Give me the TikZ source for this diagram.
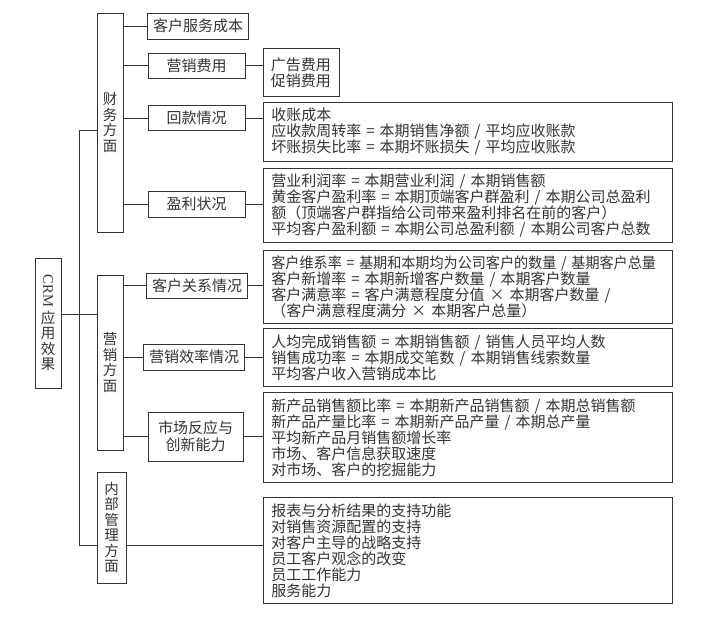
\documentclass[tikz,border=0pt]{standalone}
\usepackage{fontspec}
\setmainfont{Noto Sans CJK SC}
\newfontfamily\latinrm{Liberation Serif}
\usepackage{graphicx}

\begin{document}
\begin{tikzpicture}[x=1pt, y=1pt,
    color=black!80, line width=0.7pt,
    every node/.style = {draw, inner sep=0pt},
    vtext/.style = {minimum width=26pt, align=center, font=\fontsize{14.5}{15.5}\selectfont},
    item/.style = {minimum width=97pt, minimum height=25pt, inner xsep=5.5pt, align=center, font=\fontsize{15}{17}\selectfont},
    detail/.style = {anchor=north west, text width=393pt, inner xsep=8pt, align=left, font=\fontsize{15}{16}\selectfont}
    ]
    \useasboundingbox (0,0) rectangle (702,-624);

    \node[vtext, minimum height=130pt] (crm) at (48,-323) {\rotatebox{-90}{\latinrm CRM}\\[3pt]应\\用\\效\\果};
    \node[vtext, minimum height=219pt] (fin) at (110,-122.5) {财\\务\\方\\面};
    \node[vtext, minimum height=175pt] (mkt) at (110,-362.5) {营\\销\\方\\面};
    \node[vtext, minimum width=29pt, minimum height=111pt] (inn) at (111.5,-527.5) {内\\部\\管\\理\\方\\面};

    \node[item, minimum width=100pt, minimum height=26pt] (cost) at (198,-26) {客户服务成本};
    \node[item] (promo) at (196.5,-65.5) {营销费用};
    \node[item] (pay) at (196.5,-118) {回款情况};
    \node[item, minimum height=26pt] (profit) at (196.5,-204) {盈利状况};
    \node[item] (rel) at (197,-285.5) {客户关系情况};
    \node[item, minimum height=26pt] (eff) at (194,-357) {营销效率情况};
    \node[item, minimum width=95pt, minimum height=49pt] (mkr) at (195.5,-436.5) {市场反应与\\创新能力};

    \node[detail, text width=61pt, inner xsep=7.5pt, minimum height=48pt] (promo-d) at (263,-48) {广告费用\\促销费用};
    \node[detail, minimum height=59pt] (pay-d) at (263,-102) {收账成本\\应收款周转率 = 本期销售净额 / 平均应收账款\\坏账损失比率 = 本期坏账损失 / 平均应收账款};
    \node[detail, minimum height=74pt] (profit-d) at (263,-168) {营业利润率 = 本期营业利润 / 本期销售额\\黄金客户盈利率 = 本期顶端客户群盈利 / 本期公司总盈利\\额（顶端客户群指给公司带来盈利排名在前的客户）\\平均客户盈利额 = 本期公司总盈利额 / 本期公司客户总数};
    \node[detail, minimum height=73pt] (rel-d) at (263,-250) {\scalebox{0.94}[1]{客户维系率 = 基期和本期均为公司客户的数量 / 基期客户总量}\\客户新增率 = 本期新增客户数量 / 本期客户数量\\客户满意率 = 客户满意程度分值 × 本期客户数量 /\\（客户满意程度满分 × 本期客户总量）};
    \node[detail, minimum height=58pt] (eff-d) at (263,-328) {人均完成销售额 = 本期销售额 / 销售人员平均人数\\销售成功率 = 本期成交笔数 / 本期销售线索数量\\平均客户收入营销成本比};
    \node[detail, minimum height=90pt] (mkr-d) at (263,-392) {新产品销售额比率 = 本期新产品销售额 / 本期总销售额\\新产品产量比率 = 本期新产品产量 / 本期总产量\\平均新产品月销售额增长率\\市场、客户信息获取速度\\对市场、客户的挖掘能力};
    \node[detail, minimum height=106pt] (inn-d) at (263,-497) {报表与分析结果的支持功能\\对销售资源配置的支持\\对客户主导的战略支持\\员工客户观念的改变\\员工工作能力\\服务能力};

    \coordinate (top) at (79,-130);
    \coordinate (mid) at (79,-314);
    \coordinate (bot) at (79,-545);
    \draw (fin.west |- top) -| (bot) -- (inn.west |- bot);
    \draw (crm.east |- mid) -- (mkt.west |- mid);
    \foreach \c in {cost, promo, pay, profit}
        \draw (fin.east |- \c.west) -- (\c.west);
    \foreach \c in {rel, eff, mkr}
        \draw (mkt.east |- \c.west) -- (\c.west);
    \foreach \c in {promo, pay, profit, rel, eff, mkr}
        \draw (\c.east) -- (\c-d.west |- \c.east);
    \draw (inn.east |- bot) -- (inn-d.west |- bot);
\end{tikzpicture}
\end{document}
